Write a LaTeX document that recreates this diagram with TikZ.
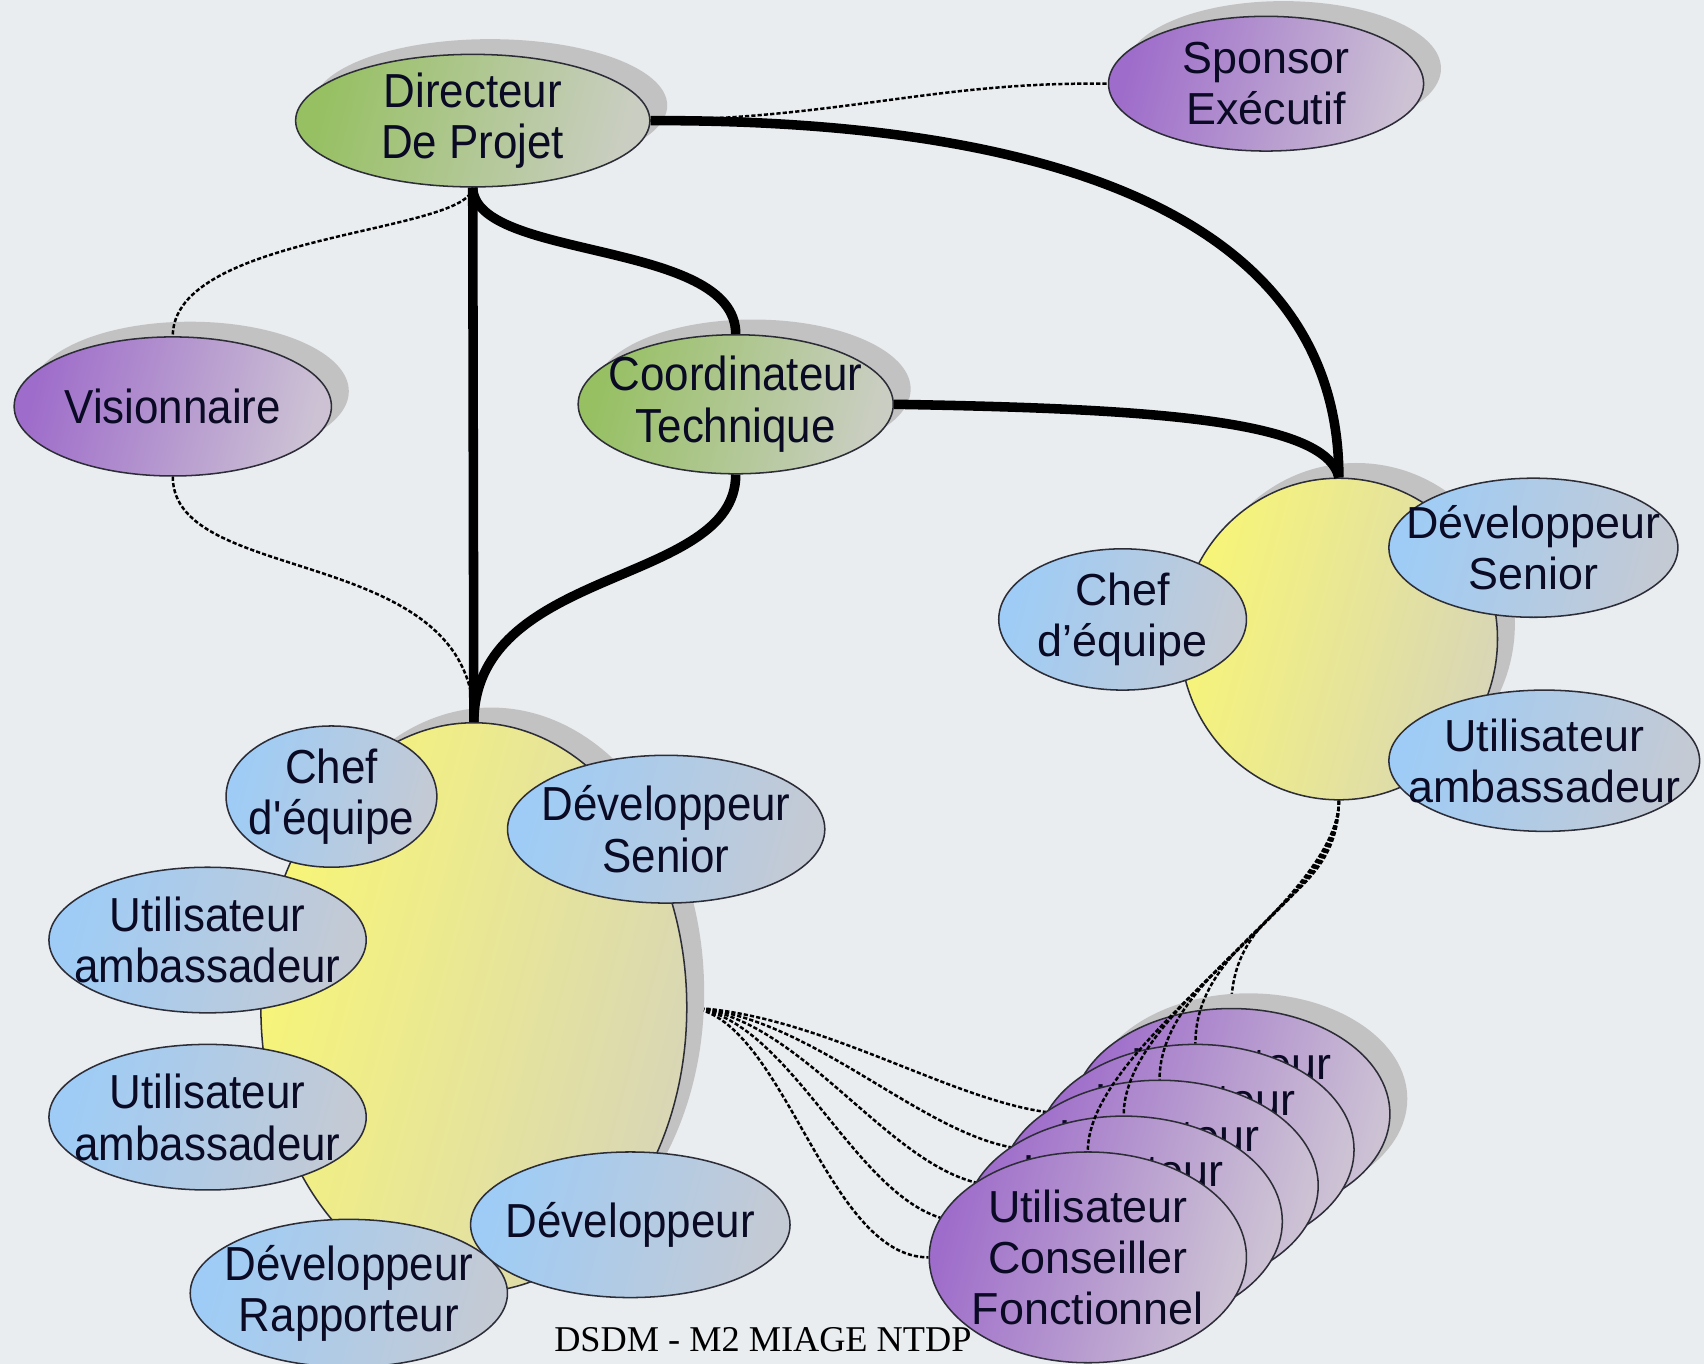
\documentclass[tikz,border=0pt]{standalone}
\usepackage{fontspec}
\setmainfont{Liberation Sans}
\newfontfamily\narrowf[FakeStretch=0.92]{Liberation Sans}
\newfontfamily\serf{Liberation Serif}
\usetikzlibrary{shapes.geometric,shadows}
\pgfdeclarelayer{bgl}
\pgfdeclarelayer{Lc4}\pgfdeclarelayer{Ls4}
\pgfdeclarelayer{Lc3}\pgfdeclarelayer{Ls3}
\pgfdeclarelayer{Lc2}\pgfdeclarelayer{Ls2}
\pgfdeclarelayer{Lc1}\pgfdeclarelayer{Ls1}
\pgfdeclarelayer{Lc0}\pgfdeclarelayer{Ls0}
\pgfsetlayers{bgl,Lc4,Ls4,Lc3,Ls3,Lc2,Ls2,Lc1,Ls1,Lc0,Ls0,main}
\definecolor{bgc}{RGB}{233,237,240}
\definecolor{gA}{RGB}{150,192,98}
\definecolor{gB}{RGB}{202,206,194}
\definecolor{pA}{RGB}{158,108,202}
\definecolor{pB}{RGB}{204,194,212}
\definecolor{bA}{RGB}{158,204,246}
\definecolor{bB}{RGB}{196,202,212}
\definecolor{yA}{RGB}{248,246,118}
\definecolor{yB}{RGB}{216,214,182}
\definecolor{shc}{RGB}{194,194,194}
\definecolor{edgec}{RGB}{45,45,55}
\definecolor{txtc}{RGB}{10,10,36}
\tikzset{
  el/.style={ellipse, draw=edgec, line width=0.8pt, inner sep=-1.5cm, align=center, text=txtc},
  gfill/.style={left color=gA, right color=gB, shading angle=75},
  pfill/.style={left color=pA, right color=pB, shading angle=75},
  bfill/.style={left color=bA, right color=bB, shading angle=75},
  yfill/.style={left color=yA, right color=yB, shading angle=75},
  shd/.style={drop shadow={shadow xshift=0.32cm, shadow yshift=0.28cm, fill=shc, opacity=1}},
  nar/.style={font=\narrowf\fontsize{25}{27}\selectfont},
  wid/.style={font=\fontsize{23.5}{26.5}\selectfont},
  sz/.style 2 args={minimum width=#1cm, minimum height=#2cm},
  tlink/.style={line width=5pt, draw=black},
  dlink/.style={line width=1.3pt, draw=black, dash pattern=on 2.2pt off 1.1pt},
}
\begin{document}
\begin{tikzpicture}[x=0.02cm, y=-0.02cm]
\useasboundingbox (0,0) rectangle (1568,1255);
\begin{pgfonlayer}{bgl}
  \fill[bgc] (0,0) rectangle (1568,1255);
  \node[font=\serf\fontsize{19}{22}\selectfont, text=black, inner sep=0pt] (foot) at (702,1233) {DSDM - M2 MIAGE NTDP};
\end{pgfonlayer}

% top nodes
\node[el,gfill,shd,nar,sz={6.52}{2.44}] (dir) at (435,111) {Directeur\\De Projet};
\node[el,pfill,shd,wid,sz={5.80}{2.48}] (spon) at (1165,77) {Sponsor\\Exécutif};
\node[el,pfill,shd,nar,sz={5.84}{2.56}] (vis) at (159,374) {Visionnaire};
\node[el,gfill,shd,nar,sz={5.80}{2.56}] (coord) at (677,372) {Coordinateur\\Technique};

% right team
\node[el,yfill,shd,sz={5.84}{5.92}] (rc) at (1232,588) {};
\node[el,bfill,wid,sz={4.56}{2.60}] (rchef) at (1033,570) {Chef\\d’équipe};
\node[el,bfill,wid,sz={5.32}{2.56}] (rdev) at (1411,504) {Développeur\\Senior};
\node[el,bfill,wid,sz={5.72}{2.60}] (ramb) at (1421,700) {Utilisateur\\ambassadeur};

% left team
\node[el,yfill,shd,sz={7.84}{10.48}] (ly) at (436,927) {};
\node[el,bfill,nar,sz={3.88}{2.60}] (lchef) at (305,733) {Chef\\d\textquotesingle équipe};
\node[el,bfill,nar,sz={5.84}{2.72}] (ldev) at (613,763) {Développeur\\Senior};
\node[el,bfill,nar,sz={5.84}{2.68}] (lamb1) at (191,865) {Utilisateur\\ambassadeur};
\node[el,bfill,nar,sz={5.84}{2.68}] (lamb2) at (191,1028) {Utilisateur\\ambassadeur};
\node[el,bfill,nar,sz={5.88}{2.68}] (ldv) at (580,1127) {Développeur};
\node[el,bfill,nar,sz={5.84}{2.72}] (lrap) at (321,1190) {Développeur\\Rapporteur};

% stack of functional advisors
\begin{pgfonlayer}{Ls4}
\node[el,pfill,shd,wid,sz={5.84}{3.88}] (s4) at (1133,1025) {Utilisateur\\Conseiller\\Fonctionnel};
\end{pgfonlayer}
\begin{pgfonlayer}{Ls3}
\node[el,pfill,wid,sz={5.84}{3.88}] (s3) at (1100,1058) {Utilisateur\\Conseiller\\Fonctionnel};
\end{pgfonlayer}
\begin{pgfonlayer}{Ls2}
\node[el,pfill,wid,sz={5.84}{3.88}] (s2) at (1067,1091) {Utilisateur\\Conseiller\\Fonctionnel};
\end{pgfonlayer}
\begin{pgfonlayer}{Ls1}
\node[el,pfill,wid,sz={5.84}{3.88}] (s1) at (1034,1124) {Utilisateur\\Conseiller\\Fonctionnel};
\end{pgfonlayer}
\begin{pgfonlayer}{Ls0}
\node[el,pfill,wid,sz={5.84}{3.88}] (s0) at (1001,1157) {Utilisateur\\Conseiller\\Fonctionnel};
\end{pgfonlayer}

% main connectors
\draw[dlink] (dir.east) .. controls (780,108) and (860,75) .. (spon.west);
\draw[tlink] (dir.east) .. controls (900,110) and (1232,170) .. (rc.north);
\draw[tlink] (coord.east) .. controls (1050,376) and (1220,385) .. (rc.north);
\draw[tlink] (dir.south) -- (ly.north);
\draw[tlink] (dir.south) .. controls (437,240) and (677,220) .. (coord.north);
\draw[tlink] (coord.south) .. controls (677,540) and (437,520) .. (ly.north);
\draw[dlink] (dir.south) .. controls (430,215) and (159,215) .. (vis.north);
\draw[dlink] (vis.south) .. controls (159,540) and (437,500) .. (ly.north);

% connectors to the stack
\begin{pgfonlayer}{Lc4}
\draw[dlink] (ly.east) .. controls +(128,5) and +(-95,0) .. (s4.west);
\draw[dlink] (rc.south) .. controls +(0,95) and +(0,-100) .. (s4.north);
\end{pgfonlayer}
\begin{pgfonlayer}{Lc3}
\draw[dlink] (ly.east) .. controls +(118,5) and +(-95,0) .. (s3.west);
\draw[dlink] (rc.south) .. controls +(0,95) and +(0,-100) .. (s3.north);
\end{pgfonlayer}
\begin{pgfonlayer}{Lc2}
\draw[dlink] (ly.east) .. controls +(108,5) and +(-95,0) .. (s2.west);
\draw[dlink] (rc.south) .. controls +(0,95) and +(0,-100) .. (s2.north);
\end{pgfonlayer}
\begin{pgfonlayer}{Lc1}
\draw[dlink] (ly.east) .. controls +(98,5) and +(-95,0) .. (s1.west);
\draw[dlink] (rc.south) .. controls +(0,95) and +(0,-100) .. (s1.north);
\end{pgfonlayer}
\begin{pgfonlayer}{Lc0}
\draw[dlink] (ly.east) .. controls +(88,5) and +(-95,0) .. (s0.west);
\draw[dlink] (rc.south) .. controls +(0,95) and +(0,-100) .. (s0.north);
\end{pgfonlayer}
\end{tikzpicture}
\end{document}
